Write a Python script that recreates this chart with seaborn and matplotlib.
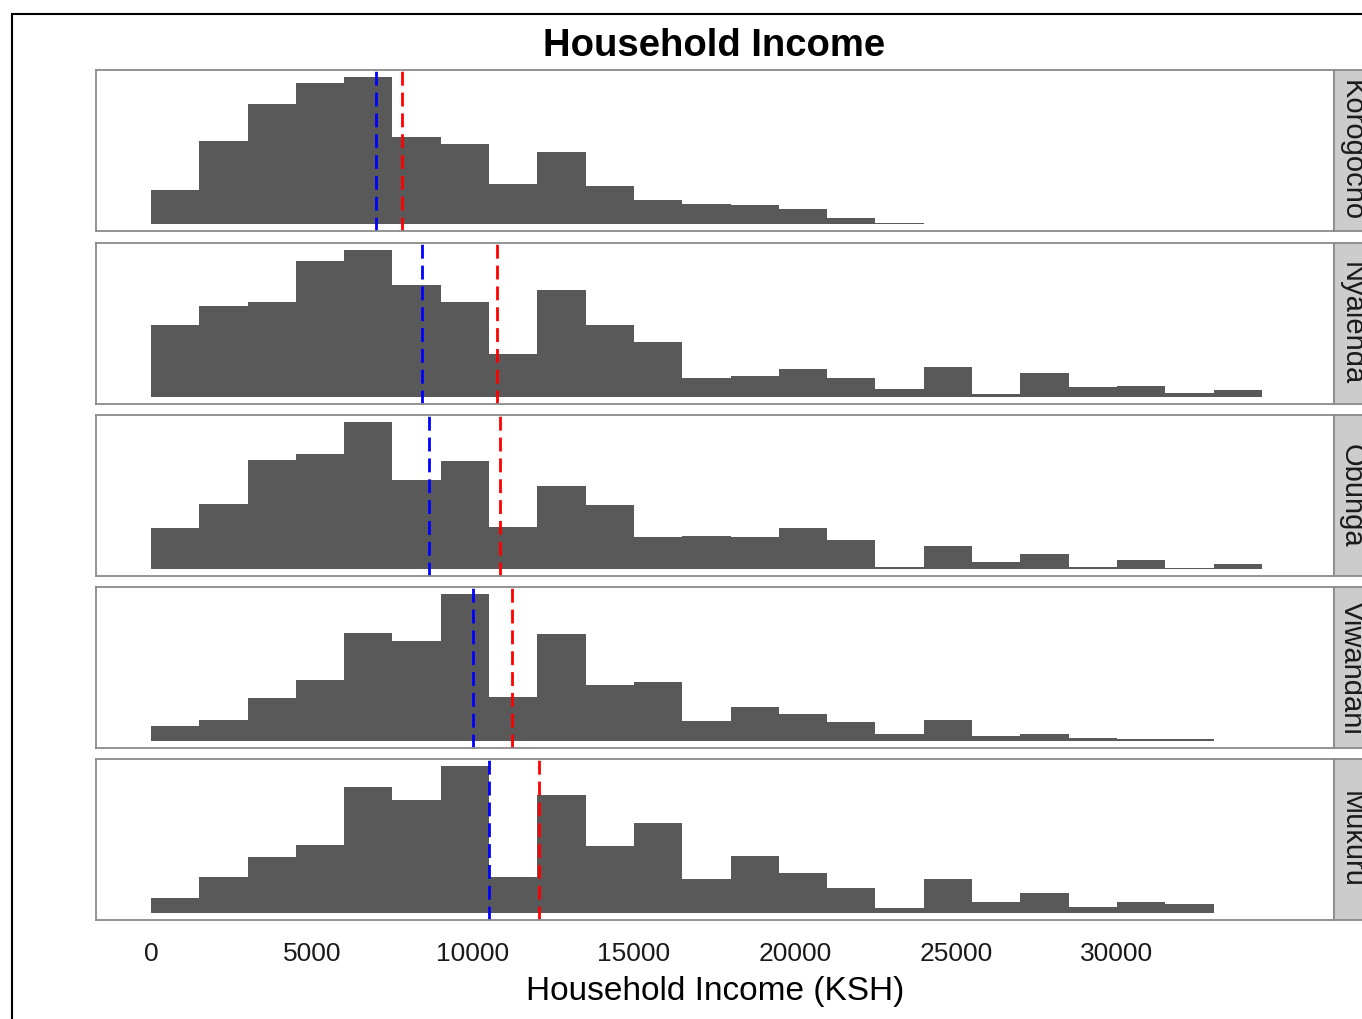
import numpy as np
import pandas as pd
import matplotlib.pyplot as plt
import matplotlib.patches as mpatches
import seaborn as sns

sns.set_style('white')
plt.rcParams['font.family'] = ['Liberation Sans', 'DejaVu Sans']

# facets, top to bottom
regions = ['Korogocho', 'Nyalenda', 'Obunga', 'Viwandani', 'Mukuru']

# bar heights (relative counts), bins of 1500 KSH starting at 0
korogocho = [102, 248, 359, 424, 440, 261, 241, 118, 214, 112, 72, 60, 57, 44, 18, 2]
nyalenda = [216, 271, 283, 406, 439, 335, 285, 128, 320, 216, 163, 56, 63, 82, 55, 23,
            90, 8, 70, 29, 33, 12, 20]
obunga = [121, 194, 325, 342, 437, 266, 321, 125, 248, 190, 94, 98, 94, 121, 86, 6,
          67, 19, 44, 6, 25, 2, 14]
viwandani = [43, 63, 128, 182, 322, 298, 437, 131, 320, 166, 175, 59, 101, 79, 56, 20,
             63, 14, 20, 7, 6, 4]
mukuru = [45, 107, 168, 204, 377, 339, 439, 107, 354, 201, 268, 100, 170, 120, 73, 15,
          101, 31, 59, 18, 31, 26]

# dashed reference lines (blue = median, red = mean)
median_income = [7000, 8410, 8630, 10000, 10490]
mean_income = [7800, 10760, 10850, 11210, 12060]

x_ticks = [0, 5000, 10000, 15000, 20000, 25000, 30000]
bin_width = 1500

counts = [korogocho, nyalenda, obunga, viwandani, mukuru]
rows = []
for reg, vals in zip(regions, counts):
    for i, v in enumerate(vals):
        rows.append({'region': reg, 'income': i * bin_width + bin_width / 2, 'count': v})
df = pd.DataFrame(rows)

W, H = 1362, 1019
fig = plt.figure(figsize=(W / 100, H / 100), dpi=100)


def box(x0, y0, x1, y1):
    return [x0 / W, 1 - y1 / H, (x1 - x0) / W, (y1 - y0) / H]


panel_tops = [70, 243, 415, 587, 759]
panel_h = 161
left, right = 96, 1334

for k, reg in enumerate(regions):
    top = panel_tops[k]
    ax = fig.add_axes(box(left, top, right, top + panel_h))
    sub = df[df['region'] == reg]
    sns.histplot(data=sub, x='income', weights='count', binwidth=bin_width,
                 binrange=(0, 23 * bin_width), color='#595959', alpha=1,
                 linewidth=0, ax=ax)
    ymax = sub['count'].max()
    ax.set_ylim(-0.05 * ymax, 1.05 * ymax)
    ax.set_xlim(-1708, 36740)
    ax.axvline(median_income[k], color='#0000FF', lw=2, ls=(0, (5, 2.5)))
    ax.axvline(mean_income[k], color='#FF0000', lw=2, ls=(0, (5, 2.5)))
    ax.set_ylabel('')
    ax.set_xlabel('')
    ax.set_yticks([])
    ax.set_xticks(x_ticks)
    ax.tick_params(axis='x', length=0, pad=16, labelsize=19, labelcolor='#1a1a1a')
    if k < len(regions) - 1:
        ax.set_xticklabels([])
    for s in ax.spines.values():
        s.set_color('#8a8a8a')
        s.set_linewidth(1.3)

    # strip on the right
    st = fig.add_axes(box(right, top, right + 46, top + panel_h))
    st.set_facecolor('#cccccc')
    st.set_xticks([])
    st.set_yticks([])
    for s in st.spines.values():
        s.set_color('#8a8a8a')
        s.set_linewidth(1.3)
    st.text(0.38, 0.5, reg, rotation=-90, ha='center', va='center',
            fontsize=21, color='#1a1a1a', transform=st.transAxes)

fig.text(714 / W, 1 - 46 / H, 'Household Income', ha='center', va='center',
         fontsize=27.5, fontweight='bold', color='black')
fig.text(715 / W, 1 - 1000 / H, 'Household Income (KSH)', ha='center', va='baseline',
         fontsize=24, color='black')

# outer frame, cut by the right and bottom edges like the reference
fig.patches.append(mpatches.Rectangle((12 / W, -0.1), 2, 1 - 14 / H + 0.1,
                                      transform=fig.transFigure, fill=False,
                                      ec='black', lw=1.5))

fig.savefig('out.png', dpi=100)
